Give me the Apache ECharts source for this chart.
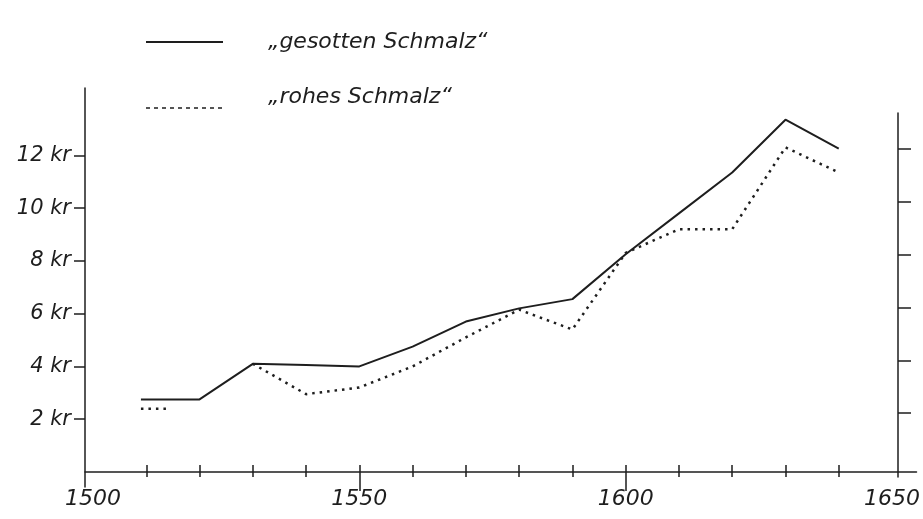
<!DOCTYPE html>
<html>
<head>
<meta charset="utf-8">
<title>Schmalzpreise 1500-1650</title>
<script src="https://cdn.jsdelivr.net/npm/echarts@6.0.0/dist/echarts.min.js"></script>
<style>
  html, body { margin: 0; padding: 0; background: #fff; }
  #chart { width: 923px; height: 519px; }
</style>
</head>
<body>
<div id="chart"></div>
<script>
// --- Daten (Preise in kr) ---
const seriesNames = ['„gesotten Schmalz“', '„rohes Schmalz“'];

const gesottenYears  = [1509, 1520, 1530, 1540, 1550, 1560, 1570, 1580, 1590, 1600, 1610, 1620, 1630, 1640];
const gesottenPrices = [2.75, 2.75, 4.1, 4.05, 4.0, 4.75, 5.7, 6.2, 6.55, 8.25, 9.8, 11.35, 13.35, 12.25];

// null = Lücke in der Linie
const rohesYears  = [1509, 1514, 1520, 1530, 1540, 1550, 1560, 1570, 1580, 1590, 1600, 1610, 1620, 1630, 1640];
const rohesPrices = [2.4, 2.4, null, 4.1, 2.95, 3.2, 4.0, 5.1, 6.15, 5.4, 8.3, 9.2, 9.2, 12.3, 11.35];

// Achsen
const xTickYears = [1510, 1520, 1530, 1540, 1550, 1560, 1570, 1580, 1590, 1600, 1610, 1620, 1630, 1640];
const xLongTickYears = [1550, 1600];
const xLabelYears = [1500, 1550, 1600, 1650];
const yTickValues = [2, 4, 6, 8, 10, 12];

const ink = '#1e1e1e';
const hand = { fontFamily: 'DejaVu Sans', fontWeight: 200, fontStyle: 'italic', color: ink };

const toPairs = (xs, ys) => xs.map((x, i) => [x, ys[i] === null ? '-' : ys[i]]);

const xMin = 1498.5;
const xMax = 1654.6;

const chart = echarts.init(document.getElementById('chart'));

const option = {
  backgroundColor: '#fff',
  animation: false,
  legend: {
    orient: 'vertical',
    left: 145,
    top: 31,
    padding: 0,
    itemWidth: 77,
    itemHeight: 14,
    itemGap: 33,
    itemStyle: { opacity: 0 },
    // zweite Zeile etwas hoeher als ihre Linie, wie im Original
    formatter: name => name === seriesNames[1] ? name + '\n ' : name,
    textStyle: Object.assign({}, hand, { fontSize: 22, lineHeight: 22, padding: [0, 0, 0, 40] }),
    data: [
      { name: seriesNames[0] },
      { name: seriesNames[1], lineStyle: { type: [4, 4], width: 1.5 } }
    ]
  },
  grid: [
    { left: 85, right: 0, top: 88, bottom: 47 },   // Daten
    { left: 85, right: 0, top: 88, bottom: 32 },   // linke Achse (laenger)
    { left: 85, right: 25, top: 113, bottom: 42 }  // rechte Achse
  ],
  xAxis: [
    {
      gridIndex: 0, type: 'value', position: 'bottom', min: xMin, max: xMax,
      axisLine: { lineStyle: { color: ink, width: 1.5 } },
      axisTick: { customValues: xTickYears, inside: true, length: 7, lineStyle: { color: ink, width: 1.5 } },
      axisLabel: Object.assign({}, hand, {
        customValues: xLabelYears, fontSize: 22, margin: 16,
        formatter: v => String(v)
      }),
      splitLine: { show: false }
    },
    {
      gridIndex: 0, type: 'value', position: 'bottom', min: xMin, max: xMax,
      axisLine: { show: false },
      axisTick: { customValues: xTickYears, length: 5, lineStyle: { color: ink, width: 1.5 } },
      axisLabel: { show: false },
      splitLine: { show: false }
    },
    {
      gridIndex: 0, type: 'value', position: 'bottom', min: xMin, max: xMax,
      axisLine: { show: false },
      axisTick: { customValues: xLongTickYears, length: 19, lineStyle: { color: ink, width: 1.5 } },
      axisLabel: { show: false },
      splitLine: { show: false }
    },
    { gridIndex: 1, type: 'value', min: xMin, max: xMax, show: false },
    { gridIndex: 2, type: 'value', min: xMin, max: xMax, show: false }
  ],
  yAxis: [
    { gridIndex: 0, type: 'value', min: 0, max: 14.55, show: false },
    {
      gridIndex: 1, type: 'value', min: -0.57, max: 14.55,
      axisLine: { show: true, lineStyle: { color: ink, width: 1.5 } },
      axisTick: { show: true, customValues: yTickValues, length: 11, lineStyle: { color: ink, width: 1.5 } },
      axisLabel: Object.assign({}, hand, {
        customValues: yTickValues, fontSize: 21, margin: 14,
        formatter: v => v + ' kr'
      }),
      splitLine: { show: false }
    },
    {
      gridIndex: 2, type: 'value', position: 'right', min: -0.42, max: 13.37,
      axisLine: { show: true, lineStyle: { color: ink, width: 1.5 } },
      axisTick: { show: true, customValues: yTickValues, length: 13, lineStyle: { color: ink, width: 1.5 } },
      axisLabel: { show: false },
      splitLine: { show: false }
    }
  ],
  series: [
    {
      name: seriesNames[0],
      type: 'line',
      xAxisIndex: 0, yAxisIndex: 0,
      data: toPairs(gesottenYears, gesottenPrices),
      symbol: 'none',
      lineStyle: { color: ink, width: 2 },
      itemStyle: { color: ink }
    },
    {
      name: seriesNames[1],
      type: 'line',
      xAxisIndex: 0, yAxisIndex: 0,
      data: toPairs(rohesYears, rohesPrices),
      symbol: 'none',
      connectNulls: false,
      lineStyle: { color: ink, width: 2.5, type: [2.5, 5] },
      itemStyle: { color: ink }
    }
  ]
};

chart.setOption(option);
</script>
</body>
</html>
